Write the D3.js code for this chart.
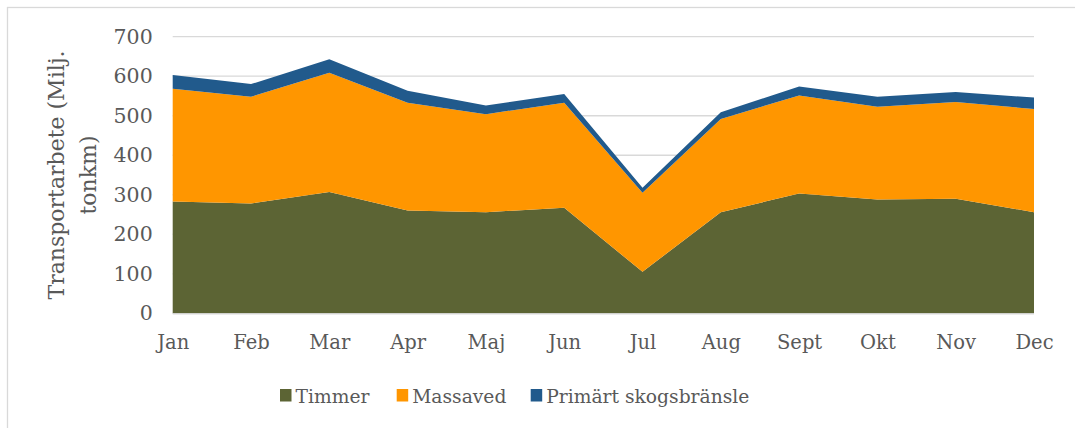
<!DOCTYPE html>
<html><head><meta charset="utf-8">
<script src="https://cdn.jsdelivr.net/npm/d3@7"></script>
<style>body{margin:0;background:#fff;} svg{display:block;}</style>
</head><body>
<svg id="c" width="1075" height="428"></svg>
<script>
const months = ["Jan","Feb","Mar","Apr","Maj","Jun","Jul","Aug","Sept","Okt","Nov","Dec"];
const timmer = [283, 278, 307, 260, 256, 267, 105, 256, 303, 288, 290, 256];
const massaved = [285, 270, 302, 273, 248, 266, 200, 236, 248, 235, 245, 261];
const primart = [35, 32, 34, 30, 22, 22, 13, 17, 23, 25, 25, 29];
const seriesNames = ["Timmer","Massaved","Primärt skogsbränsle"];
const seriesColors = ["#5C6434","#FF9600","#215A8C"];
const yTicks = [0,100,200,300,400,500,600,700];

const font = "'DejaVu Serif', Georgia, serif";
const textColor = "#595959";
const svg = d3.select("#c");

// frame
svg.append("rect").attr("x",7.5).attr("y",7.5).attr("width",1200).attr("height",600)
  .attr("fill","none").attr("stroke","#d9d9d9").attr("stroke-width",1.3);

const L = 172.7, R = 1034, T = 36.7, B = 313.3;
const x = d3.scalePoint().domain(months).range([L,R]);
const y = d3.scaleLinear().domain([0,700]).range([B,T]);

// gridlines
svg.append("g").selectAll("line").data(yTicks).join("line")
  .attr("x1",L).attr("x2",R).attr("y1",d=>y(d)).attr("y2",d=>y(d))
  .attr("stroke","#d9d9d9").attr("stroke-width",1.3);

// stacked areas
const table = months.map((m,i)=>({m, Timmer:timmer[i], Massaved:massaved[i], "Primärt skogsbränsle":primart[i]}));
const stack = d3.stack().keys(seriesNames)(table);
const area = d3.area().x(d=>x(d.data.m)).y0(d=>y(d[0])).y1(d=>y(d[1]));
svg.append("g").selectAll("path").data(stack).join("path")
  .attr("d",area).attr("fill",(d,i)=>seriesColors[i]);

// baseline
svg.append("line").attr("x1",L).attr("x2",R).attr("y1",B+0.5).attr("y2",B+0.5)
  .attr("stroke","#d9d9d9").attr("stroke-width",1.3);

// y axis labels
const yAxis = d3.axisLeft(y).tickValues(yTicks).tickSize(0).tickPadding(20);
const gy = svg.append("g").attr("transform",`translate(${L},0)`).call(yAxis);
gy.select(".domain").remove();
gy.selectAll("text").attr("font-family",font).attr("font-size",20.5).attr("fill",textColor);

// x axis labels
const xAxis = d3.axisBottom(x).tickSize(0).tickPadding(22);
const gx = svg.append("g").attr("transform",`translate(0,${B})`).call(xAxis);
gx.select(".domain").remove();
gx.selectAll("text").attr("font-family",font).attr("font-size",19.5).attr("fill",textColor);

// y title
const yt = svg.append("text").attr("transform","translate(63.5,175) rotate(-90)")
  .attr("text-anchor","middle").attr("font-family",font).attr("font-size",22).attr("fill",textColor);
yt.append("tspan").attr("x",0).attr("y",0).text("Transportarbete (Milj.");
yt.append("tspan").attr("x",0).attr("y",32.5).text("tonkm)");

// legend
const legX = [280, 396.7, 530.7];
const lg = svg.append("g").selectAll("g").data(seriesNames).join("g")
  .attr("transform",(d,i)=>`translate(${legX[i]},389)`);
lg.append("rect").attr("width",11.5).attr("height",12.5).attr("fill",(d,i)=>seriesColors[i]);
lg.append("text").attr("x",15.5).attr("y",13.5).attr("font-family",font).attr("font-size",18.7)
  .attr("fill",textColor).text(d=>d);
</script>
</body></html>
